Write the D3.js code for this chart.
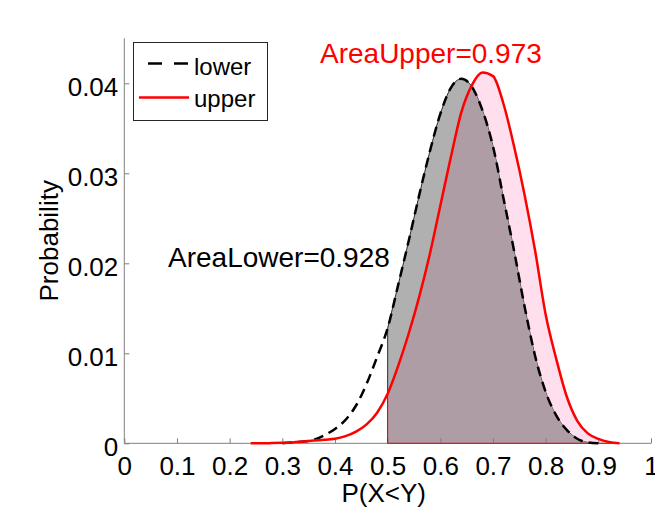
<!DOCTYPE html>
<html><head><meta charset="utf-8">
<script src="https://cdn.jsdelivr.net/npm/d3@7"></script>
<style>body{margin:0;background:#fff}svg{display:block}text{font-family:"Liberation Sans",Arial,sans-serif}</style>
</head><body>
<script>
const xs     = [0.24,0.26,0.28,0.30,0.32,0.34,0.36,0.38,0.40,0.42,0.44,0.46,0.48,0.50,0.52,0.54,0.56,0.58,0.60,0.62,0.64,0.66,0.68,0.70,0.72,0.74,0.76,0.78,0.80,0.82,0.84,0.86,0.88,0.90,0.92,0.94];
const lower  = [null,null,null,0,0.0001,0.0002,0.0004,0.0009,0.0016,0.0026,0.0042,0.0066,0.0096,0.0128,0.0176,0.0225,0.0276,0.0324,0.0366,0.0395,0.0405,0.0396,0.0370,0.0330,0.0272,0.0214,0.0152,0.0097,0.0057,0.0031,0.0015,0.0005,0.0001,0,null,null];
const upper  = [0,0,0.00002,0.00005,0.0001,0.0002,0.0003,0.0004,0.0005,0.0008,0.0013,0.0021,0.0034,0.0055,0.0086,0.0122,0.0163,0.0210,0.0264,0.0318,0.0368,0.0398,0.0412,0.0408,0.0377,0.0330,0.0276,0.0214,0.0143,0.0094,0.0052,0.0025,0.0011,0.0005,0.00015,0];
const xTicks = [0,0.1,0.2,0.3,0.4,0.5,0.6,0.7,0.8,0.9,1];
const yTicks = [0,0.01,0.02,0.03,0.04];
const cutoff = 0.5;
const areaLowerText = "AreaLower=0.928";
const areaUpperText = "AreaUpper=0.973";

const W = 655, H = 507;
const svg = d3.select("body").append("svg").attr("width", W).attr("height", H);
const x = d3.scaleLinear().domain([0, 1]).range([124.3, 651]);
const y = d3.scaleLinear().domain([0, 0.045]).range([443.3, 38.3]);

const lowerData = xs.map((v, i) => ({x: v, y: lower[i]})).filter(d => d.y !== null);
const upperData = xs.map((v, i) => ({x: v, y: upper[i]})).filter(d => d.y !== null);
const lowerFill = lowerData.filter(d => d.x >= cutoff);
const upperFill = upperData.filter(d => d.x >= cutoff);

const curve = d3.curveMonotoneX;
const area = d3.area().x(d => x(d.x)).y0(y(0)).y1(d => y(d.y)).curve(curve);
const line = d3.line().x(d => x(d.x)).y(d => y(d.y)).curve(curve);

const outline = data => "M" + x(data[0].x) + "," + y(0) + "L" + line(data).slice(1) + "L" + x(data[data.length-1].x) + "," + y(0) + "Z";

svg.append("defs").append("clipPath").attr("id", "upClip")
  .append("path").attr("d", area(upperFill));

svg.append("path").attr("d", area(upperFill)).attr("fill", "#ffdeee");
svg.append("path").attr("d", outline(lowerFill)).attr("fill", "#b0b0b0").attr("stroke", "#000").attr("stroke-width", 0.8);
svg.append("path").attr("d", area(lowerFill)).attr("fill", "#ae9da5").attr("clip-path", "url(#upClip)");

const axisColor = "#808080";
const gx = svg.append("g").attr("transform", `translate(0,${y(0)})`)
  .call(d3.axisBottom(x).tickValues(xTicks).tickFormat(d => d3.format("")(d)).tickSizeInner(-5).tickSizeOuter(0).tickPadding(0));
gx.select(".domain").attr("stroke", axisColor).attr("d", `M${x(0)},0H${x(1)}`);
gx.selectAll(".tick line").attr("stroke", axisColor);
gx.selectAll(".tick text").attr("fill", "#000").attr("font-size", 26).attr("y", 0).attr("dy", 32);

const gy = svg.append("g").attr("transform", `translate(${x(0)},0)`)
  .call(d3.axisLeft(y).tickValues(yTicks).tickFormat(d => d3.format("")(d)).tickSizeInner(-5).tickSizeOuter(0).tickPadding(0));
gy.select(".domain").attr("stroke", axisColor).attr("d", `M0,${y(0)}V${y(0.045)}`);
gy.selectAll(".tick line").attr("stroke", axisColor);
gy.selectAll(".tick text").attr("fill", "#000").attr("font-size", 26).attr("x", -6).attr("dy", 12);

svg.append("path").attr("d", outline(upperFill)).attr("fill", "none").attr("stroke", "#ff0000").attr("stroke-width", 1);

svg.append("path").attr("d", line(lowerData)).attr("fill", "none").attr("stroke", "#000").attr("stroke-width", 2.5).attr("stroke-dasharray", "10,6");
svg.append("path").attr("d", line(upperData)).attr("fill", "none").attr("stroke", "#ff0000").attr("stroke-width", 2.5);

svg.append("text").attr("x", (x(0)+x(1))/2 - 4).attr("y", 502).attr("text-anchor", "middle").attr("font-size", 26).text("P(X<Y)");
svg.append("text").attr("transform", `translate(58,${(y(0)+y(0.045))/2}) rotate(-90)`).attr("text-anchor", "middle").attr("font-size", 26).text("Probability");

svg.append("text").attr("x", 168).attr("y", 267).attr("font-size", 28).attr("fill", "#000").text(areaLowerText);
svg.append("text").attr("x", 320).attr("y", 63).attr("font-size", 28).attr("fill", "#ff0000").text(areaUpperText);

const lg = svg.append("g");
lg.append("rect").attr("x", 133.5).attr("y", 42.5).attr("width", 134).attr("height", 78).attr("fill", "#fff").attr("stroke", "#262626").attr("stroke-width", 1);
lg.append("line").attr("x1", 148).attr("x2", 189).attr("y1", 63.5).attr("y2", 63.5).attr("stroke", "#000").attr("stroke-width", 2.5).attr("stroke-dasharray", "14,12");
lg.append("text").attr("x", 194).attr("y", 75).attr("font-size", 24).text("lower");
lg.append("line").attr("x1", 139).attr("x2", 189).attr("y1", 97.5).attr("y2", 97.5).attr("stroke", "#ff0000").attr("stroke-width", 2.5);
lg.append("text").attr("x", 194).attr("y", 107).attr("font-size", 24).text("upper");
</script>
</body></html>
